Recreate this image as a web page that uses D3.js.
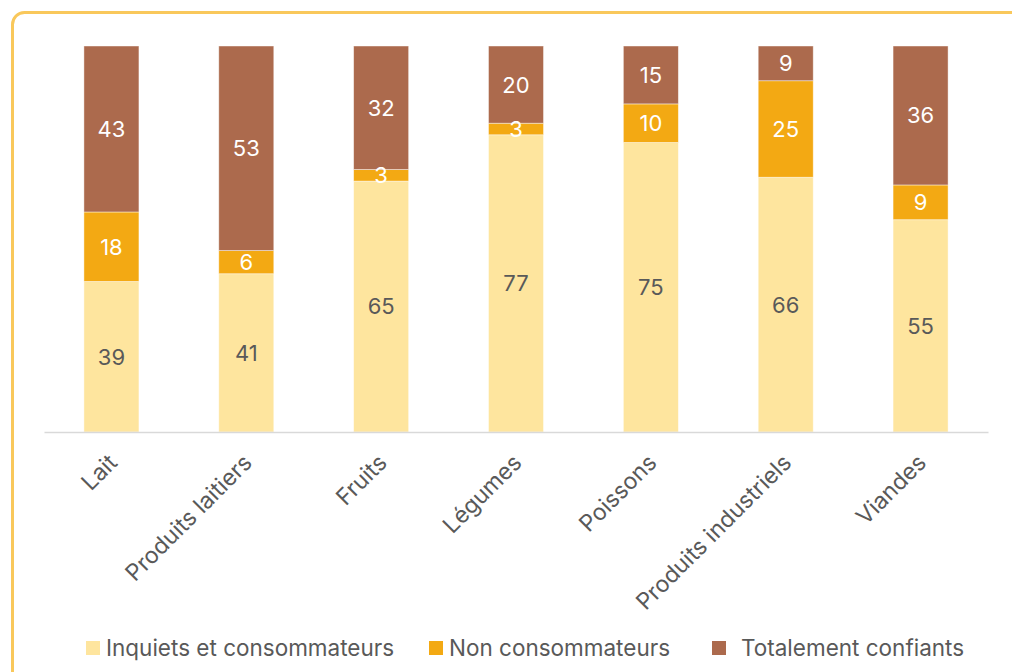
<!DOCTYPE html>
<html>
<head>
<meta charset="utf-8">
<script src="https://cdn.jsdelivr.net/npm/d3@7"></script>
<style>
  body { margin: 0; background: #fff; }
  svg { display: block; }
</style>
</head>
<body>
<svg id="chart" width="1012" height="672"></svg>
<script>
// Food categories and the share of respondents (in %) per attitude
const categories = ["Lait", "Produits laitiers", "Fruits", "Légumes", "Poissons", "Produits industriels", "Viandes"];
const inquiets = [39, 41, 65, 77, 75, 66, 55];
const nonConsommateurs = [18, 6, 3, 3, 10, 25, 9];
const confiants = [43, 53, 32, 20, 15, 9, 36];
const seriesKeys = ["inquiets", "non", "confiants"];
const seriesNames = ["Inquiets et consommateurs", "Non consommateurs", "Totalement confiants"];
const colors = ["#FEE59E", "#F3A913", "#AC6A4D"];
const labelColors = ["#595959", "#ffffff", "#ffffff"];

const FONT = "Inter, 'Liberation Sans', Arial, sans-serif";
const svg = d3.select("#chart");

// Rounded card border, running off the right and bottom edges
svg.append("rect")
  .attr("x", 12.5).attr("y", 12.5)
  .attr("width", 1100).attr("height", 800)
  .attr("rx", 12).attr("ry", 12)
  .attr("fill", "none")
  .attr("stroke", "#F9C85B")
  .attr("stroke-width", 3);

// Rows for the stack layout
const rows = categories.map((c, i) => ({
  cat: c,
  inquiets: inquiets[i],
  non: nonConsommateurs[i],
  confiants: confiants[i]
}));
const stacked = d3.stack().keys(seriesKeys)(rows);

const x = d3.scaleBand()
  .domain(categories)
  .range([44, 988])
  .paddingInner(0.592)
  .paddingOuter(0.296);

const y = d3.scaleLinear().domain([0, 100]).range([432, 46]);

// Stacked segments
const layers = svg.append("g").selectAll("g")
  .data(stacked)
  .join("g")
  .attr("fill", (d, i) => colors[i]);

layers.selectAll("rect")
  .data(d => d)
  .join("rect")
  .attr("x", d => x(d.data.cat))
  .attr("width", x.bandwidth())
  .attr("y", d => y(d[1]))
  .attr("height", d => y(d[0]) - y(d[1]))
  .attr("stroke", "rgba(255,255,255,0.55)")
  .attr("stroke-width", 0.8);

// Value labels centred in each segment
stacked.forEach((layer, si) => {
  svg.append("g").selectAll("text")
    .data(layer)
    .join("text")
    .attr("x", d => x(d.data.cat) + x.bandwidth() / 2)
    .attr("y", d => (y(d[0]) + y(d[1])) / 2)
    .attr("dy", "0.36em")
    .attr("text-anchor", "middle")
    .attr("font-family", FONT)
    .attr("font-size", 22)
    .attr("fill", labelColors[si])
    .text(d => d[1] - d[0]);
});

// Category axis
const xAxis = svg.append("g")
  .attr("transform", "translate(0,432)")
  .call(d3.axisBottom(x).tickSize(0).tickSizeOuter(0));
xAxis.select(".domain").attr("stroke", "#D9D9D9").attr("stroke-width", 1.5);
xAxis.selectAll(".tick text")
  .attr("font-family", FONT)
  .attr("font-size", 23)
  .attr("fill", "#595959")
  .attr("text-anchor", "end")
  .attr("dy", 0)
  .attr("transform", "translate(5,30) rotate(-45)");

// Legend
const legendX = [86, 429, 712];
const legend = svg.append("g");
seriesNames.forEach((name, i) => {
  legend.append("rect")
    .attr("x", legendX[i]).attr("y", 641)
    .attr("width", 14).attr("height", 14)
    .attr("fill", colors[i]);
  legend.append("text")
    .attr("x", legendX[i] + (i === 2 ? 29 : 20))
    .attr("y", 648)
    .attr("dy", "0.35em")
    .attr("font-family", FONT)
    .attr("font-size", 22.5)
    .attr("fill", "#595959")
    .text(name);
});
</script>
</body>
</html>
